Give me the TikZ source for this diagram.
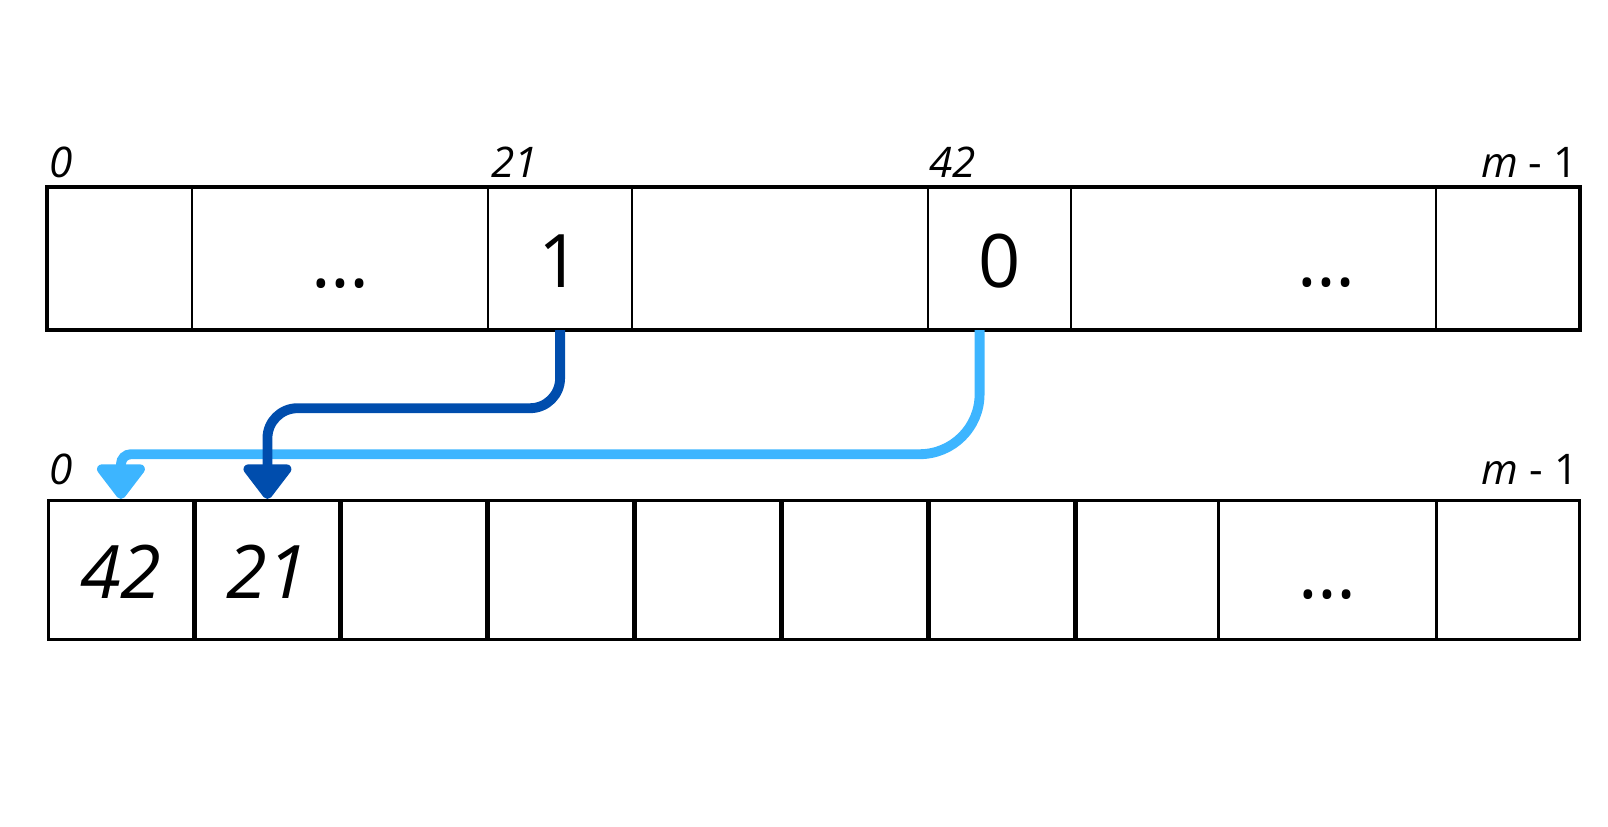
\documentclass[tikz,border=0pt]{standalone}
\usepackage{fontspec}
\setmainfont{Open Sans}
\usetikzlibrary{arrows.meta,calc}
\definecolor{ptrdark}{HTML}{004DAD}
\definecolor{ptrlight}{HTML}{3DB5FF}

\begin{document}
\begin{tikzpicture}[x=0.01cm, y=-0.01cm,
	val/.style={font=\fontsize{21}{25}\selectfont},
	cell/.style={val, draw, line width=0.6pt, anchor=north west, inner sep=0pt, text height=0.57cm, text depth=0pt},
	idx/.style={inner sep=0pt, font=\fontsize{12}{14}\selectfont\itshape},
	ptr/.style={line width=2.8pt, -{Triangle[width=0.55cm,length=0.38cm,round]}}]
			%%%%% START %%%%%
			\useasboundingbox (0,0) rectangle (1608,826);
			
			% top row
			\node[cell, minimum height=1.41cm, minimum width=1.44cm] (t0) at (47,187) {};
			\node[cell, minimum height=1.41cm, minimum width=2.96cm] (t1) at (191,187) {…};
			\node[cell, minimum height=1.41cm, minimum width=1.44cm] (t2) at (487,187) {1};
			\node[cell, minimum height=1.41cm, minimum width=2.96cm] (t3) at (631,187) {};
			\node[cell, minimum height=1.41cm, minimum width=1.43cm] (t4) at (927,187) {0};
			\node[cell, minimum height=1.41cm, minimum width=3.65cm] (t5) at (1070,187) {};
			\node[cell, minimum height=1.41cm, minimum width=1.43cm] (t6) at (1435,187) {};
			\node[val, anchor=base, inner sep=0pt] (tdots) at (1326,286) {…};
			\draw[line width=0.9pt] (t0.north west) rectangle (t6.south east);
			
			\node[idx, anchor=base west] (i0) at ($(t0.north west)+(2,-10)$) {0};
			\node[idx, anchor=base west] (i21) at ($(t2.north west)+(4,-10)$) {21};
			\node[idx, anchor=base west] (i42) at ($(t4.north west)+(2,-10)$) {42};
			\node[idx, anchor=base east] (im) at ($(t6.north east)+(-2,-10)$) {m {\upshape - 1}};
			
			% bottom row
			\node[cell, line width=0.8pt, minimum height=1.39cm, minimum width=1.45cm] (b0) at (47,499) {\itshape 42};
			\node[cell, line width=0.8pt, minimum height=1.39cm, minimum width=1.44cm] (b1) at (194,499) {\itshape 21};
			\node[cell, line width=0.8pt, minimum height=1.39cm, minimum width=1.45cm] (b2) at (340,499) {};
			\node[cell, line width=0.8pt, minimum height=1.39cm, minimum width=1.45cm] (b3) at (487,499) {};
			\node[cell, line width=0.8pt, minimum height=1.39cm, minimum width=1.45cm] (b4) at (634,499) {};
			\node[cell, line width=0.8pt, minimum height=1.39cm, minimum width=1.45cm] (b5) at (781,499) {};
			\node[cell, line width=0.8pt, minimum height=1.39cm, minimum width=1.45cm] (b6) at (928,499) {};
			\node[cell, line width=0.8pt, minimum height=1.39cm, minimum width=1.42cm] (b7) at (1075,499) {};
			\node[cell, line width=0.8pt, minimum height=1.39cm, minimum width=2.18cm] (b8) at (1217,499) {…};
			\node[cell, line width=0.8pt, minimum height=1.39cm, minimum width=1.43cm] (b9) at (1435,499) {};
			
			\node[idx, anchor=base west] (j0) at ($(b0.north west)+(2,-15)$) {0};
			\node[idx, anchor=base east] (jm) at ($(b9.north east)+(-2,-15)$) {m {\upshape - 1}};
			
			% pointers
			\coordinate (src0) at ($(t4.south)+(-20,0)$);
			\draw[ptr, draw=ptrlight] (src0) [rounded corners=0.6cm] -- ++(0,124) [rounded corners=0.1cm] -| (b0.north);
			\draw[ptr, draw=ptrdark, rounded corners=0.3cm] (t2.south) -- ++(0,78) -| (b1.north);
			
			%%%%% END %%%%%
\end{tikzpicture}
\end{document}
